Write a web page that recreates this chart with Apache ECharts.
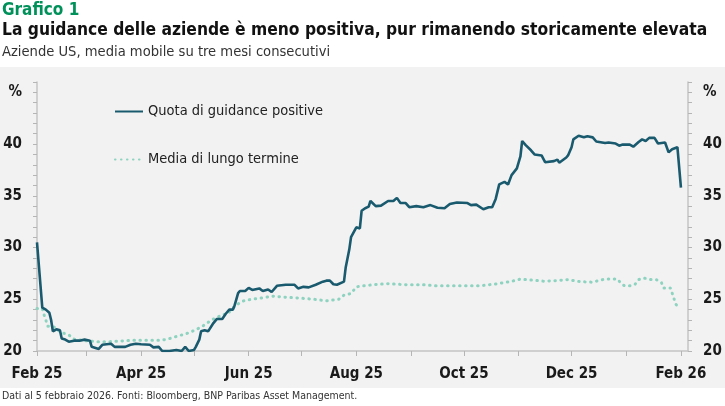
<!DOCTYPE html>
<html lang="it">
<head>
    <meta charset="UTF-8">
    <title>Grafico 1</title>
    <script src="https://cdn.jsdelivr.net/npm/echarts@6/dist/echarts.min.js"></script>
    <style>
        html, body { margin: 0; padding: 0; background: #fff; }
    </style>
</head>
<body>
<div id="main" style="width: 725px;height:406px;"></div>
<script>
    // dati
    var guidanceDates = ['2025-02-01','2025-02-04','2025-02-06','2025-02-08','2025-02-09','2025-02-10','2025-02-12','2025-02-14','2025-02-15','2025-02-17','2025-02-19','2025-02-22','2025-02-25','2025-02-28','2025-03-03','2025-03-04','2025-03-08','2025-03-10','2025-03-15','2025-03-17','2025-03-23','2025-03-26','2025-03-29','2025-04-01','2025-04-06','2025-04-08','2025-04-11','2025-04-13','2025-04-17','2025-04-21','2025-04-24','2025-04-26','2025-04-28','2025-05-01','2025-05-02','2025-05-04','2025-05-05','2025-05-07','2025-05-09','2025-05-12','2025-05-14','2025-05-17','2025-05-19','2025-05-21','2025-05-23','2025-05-24','2025-05-26','2025-05-27','2025-05-30','2025-06-01','2025-06-03','2025-06-07','2025-06-09','2025-06-12','2025-06-14','2025-06-17','2025-06-22','2025-06-27','2025-06-29','2025-07-02','2025-07-05','2025-07-09','2025-07-13','2025-07-15','2025-07-17','2025-07-19','2025-07-21','2025-07-25','2025-07-26','2025-07-28','2025-07-29','2025-08-01','2025-08-03','2025-08-04','2025-08-06','2025-08-08','2025-08-09','2025-08-12','2025-08-15','2025-08-19','2025-08-22','2025-08-24','2025-08-26','2025-08-29','2025-08-31','2025-09-04','2025-09-08','2025-09-12','2025-09-16','2025-09-20','2025-09-23','2025-09-27','2025-10-03','2025-10-05','2025-10-08','2025-10-12','2025-10-15','2025-10-17','2025-10-19','2025-10-21','2025-10-24','2025-10-25','2025-10-26','2025-10-28','2025-10-31','2025-11-02','2025-11-03','2025-11-05','2025-11-08','2025-11-10','2025-11-14','2025-11-16','2025-11-21','2025-11-23','2025-11-24','2025-11-28','2025-11-29','2025-12-01','2025-12-02','2025-12-05','2025-12-08','2025-12-10','2025-12-13','2025-12-15','2025-12-20','2025-12-22','2025-12-26','2025-12-28','2025-12-30','2026-01-03','2026-01-05','2026-01-08','2026-01-10','2026-01-12','2026-01-14','2026-01-17','2026-01-19','2026-01-20','2026-01-23','2026-01-25','2026-01-27','2026-01-30','2026-01-31','2026-02-01'];
    var guidanceValues = [30.5,24.2,24.0,23.7,23.0,21.9,22.1,22.0,21.2,21.1,20.9,21.0,21.0,21.1,21.0,20.4,20.2,20.6,20.7,20.4,20.4,20.6,20.7,20.65,20.6,20.35,20.4,20.0,20.0,20.1,20.0,20.4,20.0,20.1,20.4,21.1,21.9,22.0,21.9,22.7,23.1,23.1,23.6,24.0,24.0,24.4,25.6,25.8,25.8,26.1,25.9,26.05,25.8,25.95,25.7,26.3,26.4,26.4,26.05,26.2,26.15,26.4,26.7,26.8,26.8,26.45,26.4,26.7,28.1,29.8,31.0,31.95,31.85,33.55,33.8,33.95,34.5,34.0,34.05,34.5,34.5,34.8,34.3,34.3,33.9,34.0,33.9,34.1,33.85,33.8,34.2,34.35,34.3,34.1,34.15,33.7,33.9,33.9,34.7,36.1,36.35,36.5,36.1,37.0,37.65,38.8,40.3,39.9,39.4,39.0,38.9,38.25,38.35,38.5,38.2,38.7,38.9,39.7,40.45,40.8,40.65,40.75,40.65,40.25,40.1,40.15,40.05,39.85,39.95,39.95,39.75,40.2,40.45,40.3,40.6,40.6,40.05,40.15,40.15,39.2,39.5,39.7,39.6,35.8];

    var mediaDates = ['2025-02-01','2025-02-04','2025-02-05','2025-02-06','2025-02-07','2025-02-11','2025-02-14','2025-02-19','2025-02-22','2025-02-28','2025-03-07','2025-03-14','2025-03-24','2025-03-31','2025-04-10','2025-04-13','2025-04-17','2025-04-21','2025-04-27','2025-04-30','2025-05-05','2025-05-11','2025-05-17','2025-05-20','2025-05-24','2025-05-28','2025-06-01','2025-06-07','2025-06-15','2025-06-22','2025-07-01','2025-07-08','2025-07-15','2025-07-22','2025-07-25','2025-07-29','2025-08-01','2025-08-05','2025-08-13','2025-08-19','2025-08-30','2025-09-08','2025-09-15','2025-09-29','2025-10-10','2025-10-20','2025-10-27','2025-11-02','2025-11-05','2025-11-12','2025-11-15','2025-11-22','2025-11-29','2025-12-06','2025-12-13','2025-12-16','2025-12-20','2025-12-27','2025-12-29','2025-12-31','2026-01-03','2026-01-06','2026-01-08','2026-01-11','2026-01-15','2026-01-18','2026-01-21','2026-01-22','2026-01-26','2026-01-27','2026-01-28','2026-01-29','2026-01-31'];
    var mediaValues = [24.1,24.1,23.5,23.0,22.4,22.3,21.85,21.55,21.15,21.0,20.9,20.9,21.0,21.05,21.05,21.05,21.2,21.4,21.7,21.9,22.3,23.0,23.5,23.6,24.3,24.8,24.95,25.1,25.3,25.2,25.1,25.0,24.85,25.0,25.4,25.55,26.2,26.3,26.45,26.5,26.4,26.4,26.3,26.3,26.3,26.5,26.7,26.95,26.9,26.8,26.75,26.8,26.9,26.7,26.65,26.8,26.95,26.95,26.55,26.3,26.3,26.45,26.9,27.05,26.9,26.9,26.6,26.1,26.1,25.6,25.1,24.55,24.1];

    var monthTicks = ['2025-02-01','2025-03-01','2025-04-01','2025-05-01','2025-06-01','2025-07-01','2025-08-01','2025-09-01','2025-10-01','2025-11-01','2025-12-01','2026-01-01','2026-02-01'];
    var xLabelDates = ['2025-02-01','2025-04-01','2025-06-01','2025-08-01','2025-10-01','2025-12-01','2026-02-01'];
    var xLabelText = ['Feb 25','Apr 25','Jun 25','Aug 25','Oct 25','Dec 25','Feb 26'];
    var yLabelValues = [20, 25, 30, 35, 40, 45];

    function ts(s) {
        var p = s.split('-');
        return Date.UTC(+p[0], +p[1] - 1, +p[2]);
    }
    function pairs(dates, values) {
        return dates.map(function (d, i) { return [ts(d), values[i]]; });
    }

    var FONT = "'DejaVu Sans Condensed', 'Liberation Sans Narrow', Roboto, sans-serif";
    var labelTs = xLabelDates.map(ts);

    var myChart = echarts.init(document.getElementById('main'));
    var option = {
        backgroundColor: '#ffffff',
        animation: false,
        textStyle: { fontFamily: FONT },
        graphic: [
            { type: 'rect', z: -10, shape: { x: 0, y: 67, width: 725, height: 321 }, style: { fill: '#f2f2f2' } },
            { type: 'text', left: 2, top: 2, style: { text: 'Grafico 1', fill: '#00915a', font: "bold 17px " + FONT } },
            { type: 'text', left: 2, top: 22, style: { text: 'La guidance delle aziende è meno positiva, pur rimanendo storicamente elevata', fill: '#111', font: "bold 17.3px " + FONT } },
            { type: 'text', left: 2, top: 45, style: { text: 'Aziende US, media mobile su tre mesi consecutivi', fill: '#333', font: "14.6px " + FONT } },
            { type: 'text', left: 2, top: 391, style: { text: 'Dati al 5 febbraio 2026. Fonti: Bloomberg, BNP Paribas Asset Management.', fill: '#333', font: "10.5px " + FONT } }
        ],
        legend: {
            orient: 'vertical',
            left: 114,
            top: 104,
            padding: 0,
            itemGap: 33,
            itemWidth: 28,
            itemHeight: 14,
            itemStyle: { opacity: 0 },
            textStyle: { fontSize: 14.5, color: '#222', fontFamily: FONT },
            data: ['Quota di guidance positive', 'Media di lungo termine']
        },
        grid: { left: 37, right: 37, top: 82, bottom: 55 },
        xAxis: {
            type: 'value',
            min: ts('2025-02-01'),
            max: ts('2026-02-05'),
            axisLine: { lineStyle: { color: '#c4c4c4', width: 1.5 } },
            axisTick: { show: true, length: 5, lineStyle: { color: '#b5b5b5' }, customValues: monthTicks.map(ts) },
            splitLine: { show: false },
            axisLabel: {
                customValues: labelTs,
                margin: 16,
                fontSize: 15,
                color: '#1a1a1a',
                fontWeight: 'bold',
                fontFamily: FONT,
                formatter: function (v) {
                    var i = labelTs.indexOf(v);
                    return i >= 0 ? xLabelText[i] : '';
                }
            }
        },
        yAxis: [0, 1].map(function (k) {
            return {
                type: 'value',
                position: k ? 'right' : 'left',
                min: 20,
                max: 46,
                interval: 1,
                splitLine: { show: false },
                axisLine: { show: true, lineStyle: { color: '#c4c4c4', width: 1.5 } },
                axisTick: { show: true, length: 4, lineStyle: { color: '#b5b5b5' } },
                axisLabel: {
                    customValues: yLabelValues,
                    margin: 15,
                    fontSize: 15,
                    fontWeight: 'bold',
                    color: '#1a1a1a',
                    fontFamily: FONT,
                    formatter: function (v) { return v === 45 ? '%' : String(v); }
                }
            };
        }),
        series: [
            {
                name: 'Quota di guidance positive',
                type: 'line',
                symbol: 'none',
                z: 3,
                data: pairs(guidanceDates, guidanceValues),
                lineStyle: { color: '#1a5a6e', width: 2.6 },
                itemStyle: { color: '#1a5a6e' }
            },
            {
                name: 'Media di lungo termine',
                type: 'line',
                symbol: 'none',
                z: 2,
                data: pairs(mediaDates, mediaValues),
                lineStyle: { color: '#8dd3bf', width: 3, type: [0.5, 5.5], cap: 'round' },
                itemStyle: { color: '#8dd3bf' }
            }
        ]
    };
    myChart.setOption(option);
</script>
</body>
</html>
